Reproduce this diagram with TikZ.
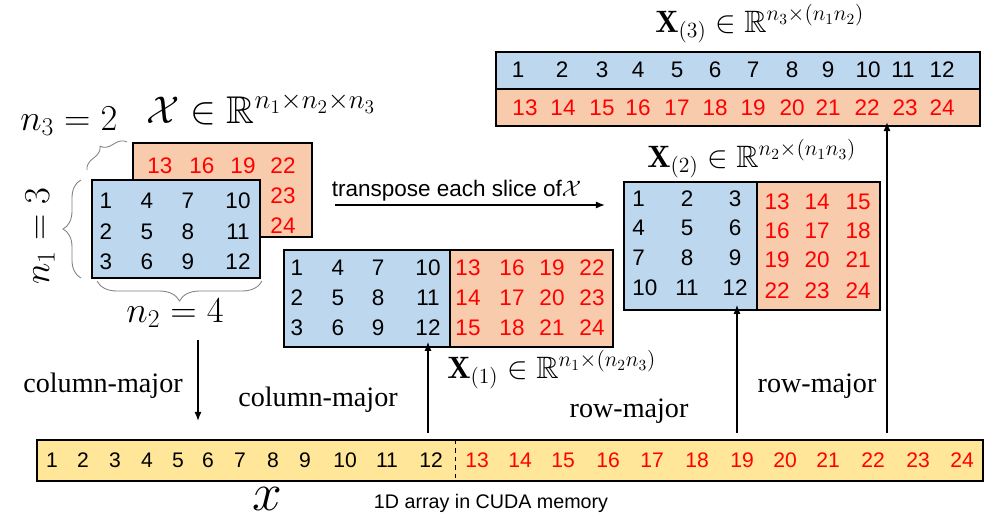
\documentclass[tikz,border=0pt]{standalone}
\usepackage{fix-cm}
\usepackage{amsmath,amssymb}
\usepackage{fontspec}
\newfontfamily\arialfont{Liberation Sans}
\newfontfamily\timesfont{Liberation Serif}
\usetikzlibrary{positioning}
\usetikzlibrary{decorations.pathreplacing,calc,arrows.meta}
\definecolor{slblue}{HTML}{BDD7EE}
\definecolor{slorange}{HTML}{F8CBAD}
\definecolor{slyellow}{HTML}{FFE699}
\definecolor{numred}{HTML}{FF0000}

\begin{document}
\begin{tikzpicture}[
    x=0.025cm, y=-0.025cm,
    >={Latex[length=6.5pt,width=5pt]},
    slab/.style={draw, line width=1.1pt, inner sep=0pt, outer sep=0pt},
    num/.style={font=\arialfont\fontsize{16}{18}\selectfont, inner sep=0pt},
    rnum/.style={num, text=numred},
    anum/.style={font=\arialfont\fontsize{15}{18}\selectfont, inner sep=0pt},
    lbl/.style={font=\timesfont\fontsize{20}{24}\selectfont},
    mlbl/.style={font=\fontsize{26}{30}\selectfont, inner sep=0pt},
    slbl/.style={font=\fontsize{22}{26}\selectfont, inner sep=0pt},
    mbrace/.style={draw=gray, line width=0.6pt, decorate, decoration={brace, amplitude=#1}},
    conn/.style={->, line width=0.9pt}
    ]
\useasboundingbox (0,0) rectangle (990,521);

% tensor X, two frontal slices
\node[slab, fill=slorange, minimum width=4.475cm, minimum height=2.35cm] (back) at (222.5,190) {};
\node[slab, fill=slblue, minimum width=4.2cm, minimum height=2.45cm] (front) at (176,229) {};
\foreach \xx [count=\j from 0] in {160,202,243,283} {
    \pgfmathtruncatemacro\v{13+3*\j}
    \node[rnum] (b\v) at (\xx,166) {\v};
}
\node[rnum] (b23) at (283,196) {23};
\node[rnum] (b24) at (283,226) {24};
\foreach \xx [count=\j from 0] in {106,147,188,238}
    \foreach \yy [count=\i] in {201,232,262} {
        \pgfmathtruncatemacro\v{3*\j+\i}
        \node[num] (f\v) at (\xx,\yy) {\v};
    }

% sizes of X
\node[mlbl, font=\fontsize{27.5}{30}\selectfont, anchor=base west] (xlab) at (146,123) {$\mathcal{X}\in\mathbb{R}^{n_1\times n_2\times n_3}$};
\node[mlbl, anchor=base west] (n3lab) at (20,130) {$n_3=2$};
\node[mlbl, rotate=90] (n1lab) at (40,236) {$n_1=3$};
\node[mlbl, anchor=base] (n2lab) at (175,322) {$n_2=4$};
\draw[mbrace=0.3cm] (87,170) -- (127,142);
\draw[mbrace=0.45cm] (front.south west -| 81,0) -- (front.north west -| 81,0);
\draw[mbrace=0.5cm] (262,281) -- (97,281);

% mode-1 unfolding
\node[slab, fill=slblue, minimum width=4.15cm, minimum height=2.425cm] (x1blue) at (367,298.5) {};
\node[slab, fill=slorange, minimum width=4.075cm, minimum height=2.425cm] (x1red) at (531.5,298.5) {};
\foreach \xx [count=\j from 0] in {297,338,378,428}
    \foreach \yy [count=\i] in {268,298,328} {
        \pgfmathtruncatemacro\v{3*\j+\i}
        \node[num] (u\v) at (\xx,\yy) {\v};
    }
\foreach \xx [count=\j from 0] in {468,512,552,592}
    \foreach \yy [count=\i] in {268,298,328} {
        \pgfmathtruncatemacro\v{12+3*\j+\i}
        \node[rnum] (u\v) at (\xx,\yy) {\v};
    }
\node[slbl, anchor=base west] (x1lab) at (447,378) {$\mathbf{X}_{(1)}\in\mathbb{R}^{n_1\times(n_2n_3)}$};

% mode-2 unfolding
\node[slab, fill=slblue, minimum width=3.325cm, minimum height=3.2cm] (x2blue) at (690.5,246) {};
\node[slab, fill=slorange, minimum width=3.075cm, minimum height=3.2cm] (x2red) at (818.5,246) {};
\foreach \yy [count=\i from 0] in {199,228,258,288} {
    \pgfmathtruncatemacro\va{3*\i+1}
    \pgfmathtruncatemacro\vb{3*\i+2}
    \pgfmathtruncatemacro\vc{3*\i+3}
    \node[num, anchor=west] (v\va) at (632,\yy) {\va};
    \node[num] (v\vb) at (687,\yy) {\vb};
    \node[num] (v\vc) at (735,\yy) {\vc};
}
\foreach \yy [count=\i from 0] in {202,231,260,291}
    \foreach \xx [count=\j] in {777,817,858} {
        \pgfmathtruncatemacro\v{12+3*\i+\j}
        \node[rnum] (v\v) at (\xx,\yy) {\v};
    }
\node[slbl, anchor=base west] (x2lab) at (647,167) {$\mathbf{X}_{(2)}\in\mathbb{R}^{n_2\times(n_1n_3)}$};

% mode-3 unfolding
\node[slab, fill=slblue, minimum width=12.1cm, minimum height=0.925cm] (x3blue) at (738,70.5) {};
\node[slab, fill=slorange, minimum width=12.1cm, minimum height=0.925cm] (x3red) at (738,107.5) {};
\foreach \xx [count=\v] in {518,562,602,638,677,715,753,792,828,868,903,942}
    \node[num] (w\v) at (\xx,70) {\v};
\foreach \xx [count=\i] in {525,563,602,638,677,715,753,792,828,867,905,942} {
    \pgfmathtruncatemacro\v{12+\i}
    \node[rnum] (w\v) at (\xx,108) {\v};
}
\node[slbl, anchor=base west] (x3lab) at (655,32) {$\mathbf{X}_{(3)}\in\mathbb{R}^{n_3\times(n_1n_2)}$};

% 1D array
\node[slab, fill=slyellow, minimum width=23.65cm, minimum height=1.025cm] (array) at (510,460.5) {};
\draw[dashed, line width=0.7pt] (array.north -| 455,0) -- (array.south -| 455,0);
\foreach \xx [count=\v] in {52,83,115,147,178,208,240,273,305,345,387,431}
    \node[anum] (a\v) at (\xx,460) {\v};
\foreach \xx [count=\i] in {477,520,563,608,652,697,742,785,828,873,918,962} {
    \pgfmathtruncatemacro\v{12+\i}
    \node[anum, text=numred] (a\v) at (\xx,460) {\v};
}
\node[font=\fontsize{38}{40}\selectfont, inner sep=0pt, anchor=base] (xvec) at (267,510) {$x$};
\node[font=\arialfont\fontsize{14}{16}\selectfont, inner sep=0pt] (cuda) at (491,503) {1D array in CUDA memory};

% connectors
\coordinate (tA) at (335,205);
\coordinate (tB) at (605,205);
\draw[conn] (tA) -- node[above=2pt, pos=0.45, font=\arialfont\fontsize{16}{18}\selectfont, inner sep=0pt] (trlab) {transpose each slice of$\mathcal{X}$} (tB);

\coordinate (d1) at (198,340);
\coordinate (d2) at (198,421);
\draw[conn] (d1) -- (d2);
\node[lbl] (cm1) at (103,386) {column-major};

\coordinate (p1) at (428,433);
\coordinate (p2) at (737,433);
\coordinate (p3) at (887,433);
\draw[conn] (p1) -- ([yshift=0.13cm]p1 |- x1blue.south);
\draw[conn] (p2) -- ([yshift=0.13cm]p2 |- x2blue.south);
\draw[conn] (p3) -- ([yshift=0.1cm]p3 |- x3red.south);
\node[lbl] (cm2) at (318,400) {column-major};
\node[lbl] (rm1) at (629,411) {row-major};
\node[lbl] (rm2) at (817,386) {row-major};
\end{tikzpicture}
\end{document}
